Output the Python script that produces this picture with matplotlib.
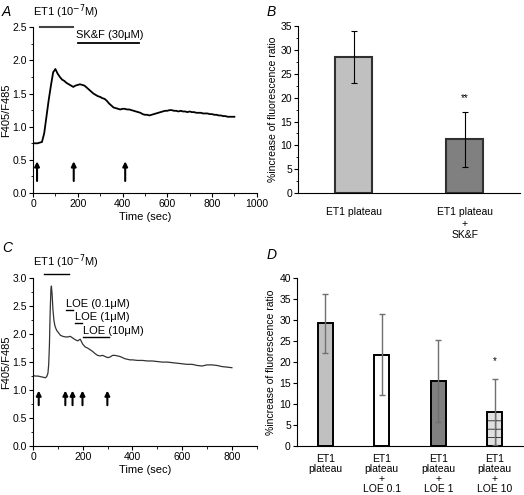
import matplotlib.pyplot as plt
from matplotlib.ticker import MultipleLocator

plt.rcParams['font.family'] = ['Liberation Sans', 'DejaVu Sans']
plt.rcParams['font.size'] = 7.5
plt.rcParams['hatch.linewidth'] = 0.5
plt.rcParams['hatch.color'] = '#555555'

# panel A trace (time in s, F405/F485)
time_a = [0, 10, 20, 30, 40, 50, 60, 70, 80, 90, 100, 110, 120, 130, 140, 150, 160, 170, 180, 190,
          200, 210, 220, 230, 240, 250, 260, 270, 280, 290, 300, 310, 320, 330, 340, 350, 360, 370, 380, 390,
          400, 410, 420, 430, 440, 450, 460, 470, 480, 490, 500, 510, 520, 530, 540, 550, 560, 570, 580, 590,
          600, 610, 620, 630, 640, 650, 660, 670, 680, 690, 700, 710, 720, 730, 740, 750, 760, 770, 780, 790,
          800, 810, 820, 830, 840, 850, 860, 870, 880, 890, 900]
ratio_a = [0.75, 0.75, 0.75, 0.76, 0.77, 0.90, 1.15, 1.40, 1.62, 1.82, 1.87, 1.80, 1.75, 1.71, 1.69, 1.66, 1.64, 1.62, 1.60, 1.62,
           1.63, 1.64, 1.63, 1.62, 1.59, 1.56, 1.53, 1.50, 1.48, 1.46, 1.45, 1.43, 1.42, 1.39, 1.35, 1.32, 1.29, 1.28, 1.27, 1.26,
           1.27, 1.27, 1.26, 1.26, 1.25, 1.24, 1.23, 1.22, 1.21, 1.19, 1.18, 1.18, 1.17, 1.18, 1.19, 1.20, 1.21, 1.22, 1.23, 1.24,
           1.24, 1.25, 1.25, 1.24, 1.24, 1.23, 1.24, 1.23, 1.23, 1.22, 1.23, 1.22, 1.22, 1.21, 1.21, 1.21, 1.20, 1.20, 1.20, 1.19,
           1.19, 1.18, 1.18, 1.17, 1.17, 1.16, 1.16, 1.15, 1.15, 1.15, 1.15]
arrows_a = [18, 182, 412]

# panel B
labels_b = ["ET1 plateau", "ET1 plateau\n+\nSK&F"]
mean_b = [28.5, 11.3]
err_b = [5.4, 5.8]
colors_b = ["#c0c0c0", "#808080"]

# panel C trace
time_c = [0, 10, 20, 30, 40, 50, 55, 60, 63, 66, 69, 72, 74, 77, 80, 84, 88, 92, 96, 100,
          110, 120, 130, 140, 150, 160, 170, 180, 190, 200, 210, 220, 230, 240, 250, 260, 270, 280, 290, 300,
          310, 320, 330, 340, 350, 360, 370, 380, 390, 400, 420, 440, 460, 480, 500, 520, 540, 560, 580, 600,
          620, 640, 660, 680, 700, 720, 740, 760, 780, 800]
ratio_c = [1.26, 1.25, 1.25, 1.24, 1.23, 1.22, 1.24, 1.30, 1.45, 1.80, 2.40, 2.80, 2.86, 2.70, 2.45, 2.25, 2.15, 2.10, 2.06, 2.04,
           1.98, 1.96, 1.95, 1.95, 1.96, 1.93, 1.90, 1.88, 1.91, 1.82, 1.77, 1.75, 1.72, 1.69, 1.65, 1.62, 1.61, 1.62, 1.60, 1.58,
           1.59, 1.62, 1.62, 1.61, 1.60, 1.58, 1.56, 1.55, 1.54, 1.54, 1.53, 1.53, 1.52, 1.52, 1.51, 1.50, 1.50, 1.49, 1.48, 1.47,
           1.46, 1.46, 1.44, 1.43, 1.45, 1.45, 1.44, 1.42, 1.41, 1.40]
arrows_c = [23, 130, 159, 199, 299]

# panel D
labels_d = ["ET1\nplateau", "ET1\nplateau\n+\nLOE 0.1", "ET1\nplateau\n+\nLOE 1", "ET1\nplateau\n+\nLOE 10"]
mean_d = [29.2, 21.8, 15.5, 8.1]
err_d = [7.1, 9.6, 9.8, 7.9]
colors_d = ["#c0c0c0", "white", "#808080", "#e0e0e0"]
hatch_d = [None, None, None, "++"]

fig = plt.figure(figsize=(5.24, 4.95), dpi=100)

def style(ax):
    for s in ["top", "right"]:
        ax.spines[s].set_visible(False)
    ax.tick_params(direction="out", length=3, width=0.8, pad=1.5)
    ax.tick_params(which="minor", length=1.8, width=0.6)

# A
axA = fig.add_axes([0.063, 0.610, 0.427, 0.335])
axA.plot(time_a, ratio_a, color="black", lw=1.3)
axA.set_xlim(0, 1000)
axA.set_ylim(0, 2.5)
axA.xaxis.set_major_locator(MultipleLocator(200))
axA.xaxis.set_minor_locator(MultipleLocator(100))
axA.set_yticks([0, 0.5, 1, 1.5, 2, 2.5], ["0.0", "0.5", "1.0", "1.5", "2.0", "2.5"])
axA.yaxis.set_minor_locator(MultipleLocator(0.25))
axA.set_xlabel("Time (sec)", labelpad=2, fontsize=8)
axA.set_ylabel("F405/F485", labelpad=1, fontsize=8)
for t in arrows_a:
    axA.annotate("", xy=(t, 0.52), xytext=(t, 0.14),
                 arrowprops=dict(arrowstyle="-|>", color="black", lw=1.5, mutation_scale=7))
axA.plot([30, 179], [2.5, 2.5], color="#444444", lw=1.5, clip_on=False)
axA.text(0, 2.6, "ET1 (10$^{-7}$M)", fontsize=8, va="bottom")
axA.plot([201, 472], [2.26, 2.26], color="black", lw=1.3, clip_on=False)
axA.text(193, 2.31, "SK&F (30\u03bcM)", fontsize=8, va="bottom")
style(axA)
fig.text(0.004, 0.975, "A", fontsize=10, style="italic", va="center")

# B
axB = fig.add_axes([0.569, 0.610, 0.424, 0.337])
axB.bar(range(2), mean_b, width=0.33, color=colors_b, edgecolor="#303030", lw=1.5,
        yerr=err_b, error_kw=dict(ecolor="black", elinewidth=0.8, capsize=2, capthick=0.8))
axB.set_xlim(-0.5, 1.5)
axB.set_ylim(0, 35)
axB.yaxis.set_major_locator(MultipleLocator(5))
axB.yaxis.set_minor_locator(MultipleLocator(2.5))
axB.set_xticks(range(2), labels_b, fontsize=7.5, va="top")
axB.set_ylabel("%increase of fluorescence ratio", labelpad=2, fontsize=7.5)
axB.text(1, 19.3, "**", ha="center", fontsize=7)
style(axB)
axB.tick_params(axis="x", length=0, pad=10)
fig.text(0.508, 0.975, "B", fontsize=10, style="italic", va="center")

# C
axC = fig.add_axes([0.063, 0.099, 0.427, 0.339])
axC.plot(time_c, ratio_c, color="#333333", lw=0.9)
axC.set_xlim(0, 900)
axC.set_ylim(0, 3.0)
axC.set_xticks([0, 200, 400, 600, 800])
axC.xaxis.set_minor_locator(MultipleLocator(100))
axC.set_yticks([0, 0.5, 1, 1.5, 2, 2.5, 3], ["0.0", "0.5", "1.0", "1.5", "2.0", "2.5", "3.0"])
axC.yaxis.set_minor_locator(MultipleLocator(0.25))
axC.set_xlabel("Time (sec)", labelpad=2, fontsize=8)
axC.set_ylabel("F405/F485", labelpad=1, fontsize=8)
for t in arrows_c:
    axC.annotate("", xy=(t, 1.04), xytext=(t, 0.68),
                 arrowprops=dict(arrowstyle="-|>", color="black", lw=1.5, mutation_scale=7))
axC.plot([43, 146], [3.07, 3.07], color="black", lw=1.0, clip_on=False)
axC.text(0, 3.12, "ET1 (10$^{-7}$M)", fontsize=8, va="bottom")
axC.plot([132, 159], [2.43, 2.43], color="black", lw=1.0)
axC.text(132, 2.45, "LOE (0.1\u03bcM)", fontsize=8, va="bottom")
axC.plot([170, 199], [2.20, 2.20], color="black", lw=1.0)
axC.text(170, 2.22, "LOE (1\u03bcM)", fontsize=8, va="bottom")
axC.plot([203, 306], [1.95, 1.95], color="black", lw=1.0)
axC.text(203, 1.97, "LOE (10\u03bcM)", fontsize=8, va="bottom")
style(axC)
fig.text(0.004, 0.5, "C", fontsize=10, style="italic", va="center")

# D
axD = fig.add_axes([0.567, 0.099, 0.431, 0.339])
bars = axD.bar(range(4), mean_d, width=0.27, color=colors_d, edgecolor="black", lw=1.4)
for b, h in zip(bars, hatch_d):
    if h:
        b.set_hatch(h)
eb = axD.errorbar(range(4), mean_d, yerr=err_d, fmt="none", ecolor="#707070", elinewidth=1.0,
                  capsize=2.2, capthick=1.0)
for cap in eb[1]:
    cap.set_color("black")
axD.set_xlim(-0.5, 3.5)
axD.set_ylim(0, 40)
axD.yaxis.set_major_locator(MultipleLocator(5))
axD.set_xticks(range(4), labels_d, fontsize=7.5, va="top", linespacing=1.0)
axD.set_ylabel("%increase of fluorescence ratio", labelpad=2, fontsize=7.5)
axD.text(3, 19.6, "*", ha="center", fontsize=7)
style(axD)
axD.tick_params(axis="x", length=0, pad=6)
fig.text(0.508, 0.485, "D", fontsize=10, style="italic", va="center")

fig.savefig("out.png", dpi=100)
